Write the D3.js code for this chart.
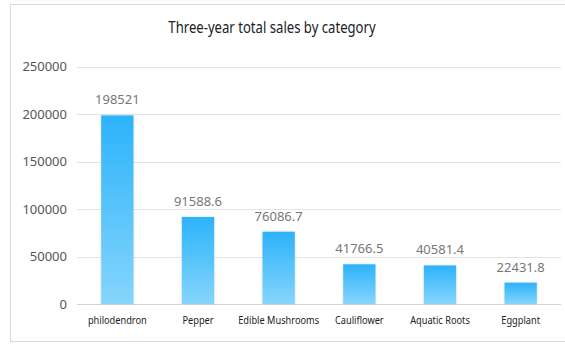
<!DOCTYPE html>
<html>
<head>
<meta charset="utf-8">
<script src="https://cdn.jsdelivr.net/npm/d3@7"></script>
<style>
  html, body { margin: 0; padding: 0; background: #fff; }
  svg { display: block; }
</style>
</head>
<body>
<svg id="chart" width="565" height="344"></svg>
<script>
// Three-year sales totals per vegetable category
const categories = ["philodendron", "Pepper", "Edible Mushrooms", "Cauliflower", "Aquatic Roots", "Eggplant"];
const totals = [198521, 91588.6, 76086.7, 41766.5, 40581.4, 22431.8];
const valueLabels = ["198521", "91588.6", "76086.7", "41766.5", "40581.4", "22431.8"];
const yTicks = [0, 50000, 100000, 150000, 200000, 250000];

const W = 565, H = 344;
const margin = { top: 66.5, right: 4, bottom: 40, left: 77 };
const svg = d3.select("#chart");

// Panel frame
svg.append("rect")
  .attr("x", 10.5).attr("y", 4.5)
  .attr("width", 570).attr("height", 337)
  .attr("fill", "#fff").attr("stroke", "#dcdcdc");

const defs = svg.append("defs");
const grad = defs.append("linearGradient")
  .attr("id", "barFill").attr("x1", 0).attr("y1", 0).attr("x2", 0).attr("y2", 1);
grad.append("stop").attr("offset", "0%").attr("stop-color", "#2cb3fa");
grad.append("stop").attr("offset", "100%").attr("stop-color", "#86d5fc");

const shadow = defs.append("filter").attr("id", "barShadow")
  .attr("x", "-30%").attr("y", "-10%").attr("width", "160%").attr("height", "120%");
shadow.append("feDropShadow")
  .attr("dx", 0).attr("dy", 0).attr("stdDeviation", 1.2)
  .attr("flood-color", "#7a8a99").attr("flood-opacity", 0.35);

const x = d3.scaleBand()
  .domain(categories)
  .range([margin.left, 561])
  .paddingInner(0.6)
  .paddingOuter(0.3);

const y = d3.scaleLinear()
  .domain([0, 250000])
  .range([304, margin.top]);

// Horizontal grid lines
svg.append("g")
  .selectAll("line")
  .data(yTicks)
  .join("line")
  .attr("x1", margin.left).attr("x2", 561)
  .attr("y1", d => Math.round(y(d)) + 0.5).attr("y2", d => Math.round(y(d)) + 0.5)
  .attr("stroke", d => d === 0 ? "#d4d4d4" : "#e3e3e3")
  .attr("stroke-width", 1.2);

// Y axis labels
const yAxis = d3.axisLeft(y).tickValues(yTicks).tickSize(0).tickPadding(10).tickFormat(d3.format("d"));
const yg = svg.append("g").attr("transform", `translate(${margin.left},0)`).call(yAxis);
yg.select(".domain").remove();
yg.selectAll("text")
  .attr("font-family", "'Noto Sans', 'Open Sans', sans-serif")
  .attr("font-size", 13)
  .attr("fill", "#555");

// Bars
svg.append("g")
  .selectAll("rect")
  .data(categories)
  .join("rect")
  .attr("x", d => x(d))
  .attr("width", x.bandwidth())
  .attr("y", (d, i) => y(totals[i]))
  .attr("height", (d, i) => y(0) - y(totals[i]))
  .attr("fill", "url(#barFill)")
  .attr("filter", "url(#barShadow)");

// Value labels above bars
svg.append("g")
  .selectAll("text")
  .data(categories)
  .join("text")
  .attr("x", d => x(d) + x.bandwidth() / 2)
  .attr("y", (d, i) => y(totals[i]) - 11)
  .attr("text-anchor", "middle")
  .attr("font-family", "'Noto Sans', 'Open Sans', sans-serif")
  .attr("font-size", 13)
  .attr("fill", "#777")
  .text((d, i) => valueLabels[i]);

// Category labels (narrow face)
svg.append("g")
  .selectAll("g")
  .data(categories)
  .join("g")
  .attr("transform", d => `translate(${x(d) + x.bandwidth() / 2},324) scale(0.84,1)`)
  .append("text")
  .attr("text-anchor", "middle")
  .attr("font-family", "'Noto Sans', 'Open Sans', sans-serif")
  .attr("font-size", 11)
  .attr("fill", "#222")
  .text(d => d);

// Title
svg.append("g")
  .attr("transform", "translate(272,33) scale(0.82,1)")
  .append("text")
  .attr("text-anchor", "middle")
  .attr("font-family", "'Noto Sans', 'Open Sans', sans-serif")
  .attr("font-size", 16)
  .attr("fill", "#222")
  .text("Three-year total sales by category");
</script>
</body>
</html>
